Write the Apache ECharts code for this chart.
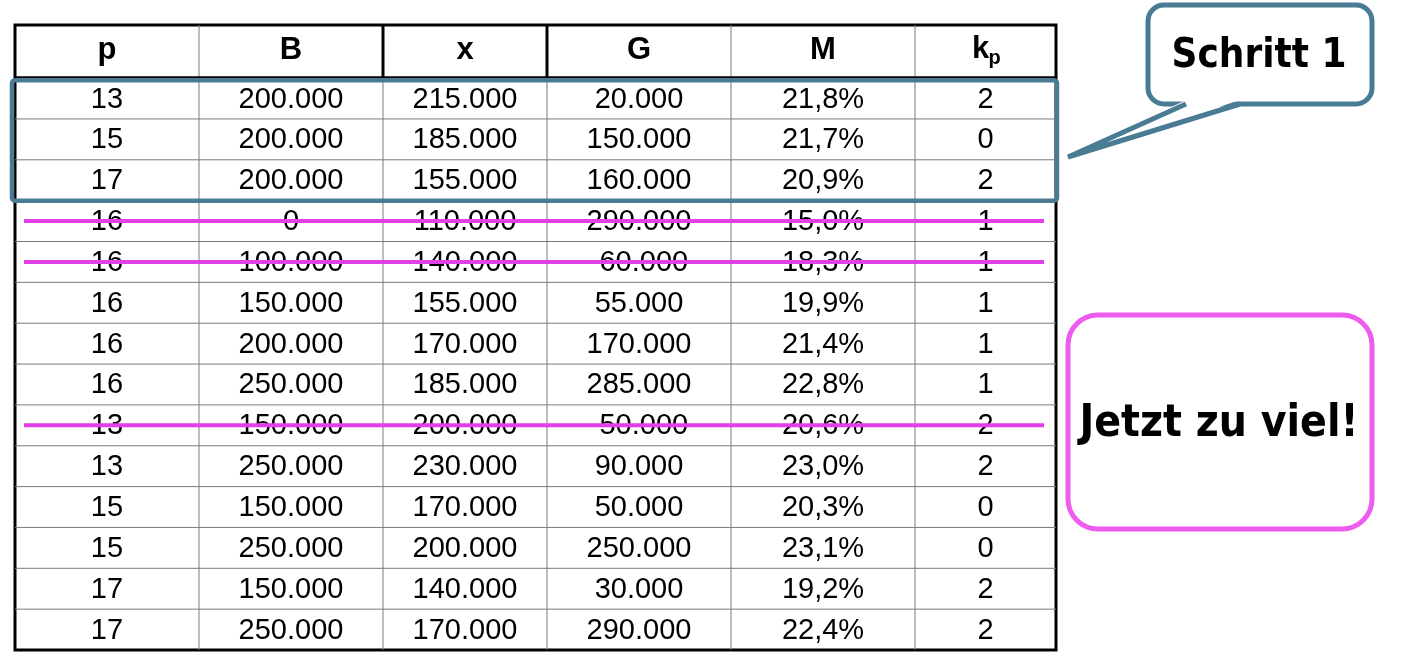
<!DOCTYPE html>
<html>
<head>
<meta charset="utf-8">
<script src="https://cdn.jsdelivr.net/npm/echarts@6/dist/echarts.min.js"></script>
<style>
  html, body { margin: 0; padding: 0; background: #fff; }
  #main { width: 1410px; height: 671px; }
</style>
</head>
<body>
<div id="main"></div>
<script>
// table values, one array per column
var headers = ['p', 'B', 'x', 'G', 'M', 'k'];
var pVals = [13, 15, 17, 16, 16, 16, 16, 16, 13, 13, 15, 15, 17, 17];
var bVals = [200000, 200000, 200000, 0, 100000, 150000, 200000, 250000, 150000, 250000, 150000, 250000, 150000, 250000];
var xVals = [215000, 185000, 155000, 110000, 140000, 155000, 170000, 185000, 200000, 230000, 170000, 200000, 140000, 170000];
var gVals = [20000, 150000, 160000, 290000, -60000, 55000, 170000, 285000, -50000, 90000, 50000, 250000, 30000, 290000];
var mVals = [21.8, 21.7, 20.9, 15.0, 18.3, 19.9, 21.4, 22.8, 20.6, 23.0, 20.3, 23.1, 19.2, 22.4];
var kVals = [2, 0, 2, 1, 1, 1, 1, 1, 2, 2, 0, 0, 2, 2];
var highlightRows = [0, 2];     // "Schritt 1"
var struckRows = [3, 4, 8];     // crossed out

// layout
var colEdges = [0, 184, 368, 532, 716, 900, 1041];
var headerH = 1.3;
var nRows = pVals.length;
var font = "'Liberation Sans', Arial, sans-serif";
var calloutFont = "'DejaVu Sans Condensed', 'DejaVu Sans', sans-serif";
var blue = '#497C94';

function thousands(v) {
    var s = String(Math.abs(v)).replace(/\B(?=(\d{3})+(?!\d))/g, '.');
    return (v < 0 ? '-' : '') + s;
}
function pct(v) {
    return v.toFixed(1).replace('.', ',') + '%';
}

var cells = [];
for (var i = 0; i < nRows; i++) {
    var row = [String(pVals[i]), thousands(bVals[i]), thousands(xVals[i]),
        thousands(gVals[i]), pct(mVals[i]), String(kVals[i])];
    for (var c = 0; c < row.length; c++) cells.push([c, i, row[c]]);
}
var headerCells = headers.map(function(h, c) { return [c, -1, h]; });

function cellBox(api, col, row) {
    var y0 = row < 0 ? 0 : headerH + row;
    var y1 = row < 0 ? headerH : headerH + row + 1;
    var a = api.coord([colEdges[col], y0]);
    var b = api.coord([colEdges[col + 1], y1]);
    return { x0: a[0], y0: a[1], x1: b[0], y1: b[1] };
}

function renderCell(params, api) {
    var col = api.value(0), row = api.value(1);
    var b = cellBox(api, col, row);
    var kids = [];
    if (col < 5) {
        kids.push({ type: 'line', shape: { x1: b.x1, y1: b.y0, x2: b.x1, y2: b.y1 },
            style: { stroke: '#7a7a7a', lineWidth: 1 } });
    }
    if (row < nRows - 1) {
        kids.push({ type: 'line', shape: { x1: b.x0, y1: b.y1, x2: b.x1, y2: b.y1 },
            style: { stroke: '#7a7a7a', lineWidth: 1 } });
    }
    kids.push({ type: 'text', style: {
        text: cells[params.dataIndex][2], x: (b.x0 + b.x1) / 2, y: (b.y0 + b.y1) / 2 + 1,
        align: 'center', verticalAlign: 'middle', font: '29px ' + font, fill: '#000' } });
    return { type: 'group', children: kids };
}

function renderHeader(params, api) {
    var col = api.value(0);
    var b = cellBox(api, col, -1);
    var kids = [];
    if (col < 5) {
        var thick = col === 1 || col === 2;
        kids.push({ type: 'line', shape: { x1: b.x1, y1: b.y0, x2: b.x1, y2: b.y1 },
            style: { stroke: thick ? '#000' : '#7a7a7a', lineWidth: thick ? 3 : 1 } });
    }
    kids.push({ type: 'line', shape: { x1: b.x0, y1: b.y1, x2: b.x1, y2: b.y1 },
        style: { stroke: '#000', lineWidth: 3.5 } });
    var cx = (b.x0 + b.x1) / 2, cy = (b.y0 + b.y1) / 2;
    var txt = headerCells[params.dataIndex][2];
    if (col === 5) {
        kids.push({ type: 'text', style: { text: 'k', x: cx - 5, y: cy - 2, align: 'center',
            verticalAlign: 'middle', font: 'bold 31px ' + font, fill: '#000' } });
        kids.push({ type: 'text', style: { text: 'p', x: cx + 9, y: cy + 7, align: 'center',
            verticalAlign: 'middle', font: 'bold 20px ' + font, fill: '#000' } });
    } else {
        kids.push({ type: 'text', style: { text: txt, x: cx, y: cy - 1, align: 'center',
            verticalAlign: 'middle', font: 'bold 31px ' + font, fill: '#000' } });
    }
    return { type: 'group', children: kids };
}

function renderHighlight(params, api) {
    var a = api.coord([-3, headerH + api.value(0) + 0.05]);
    var b = api.coord([colEdges[6] + 1, headerH + api.value(1) + 1]);
    return { type: 'rect', shape: { x: a[0], y: a[1], width: b[0] - a[0], height: b[1] - a[1], r: 3 },
        style: { fill: 'none', stroke: blue, lineWidth: 4.5 } };
}

function renderStrike(params, api) {
    var y = headerH + api.value(0) + 0.5;
    var a = api.coord([9, y]);
    var b = api.coord([colEdges[6] - 12, y]);
    return { type: 'line', shape: { x1: a[0], y1: a[1], x2: b[0], y2: b[1] },
        style: { stroke: '#E33FE6', lineWidth: 4 } };
}

var myChart = echarts.init(document.getElementById('main'));
var option = {
    animation: false,
    backgroundColor: '#fff',
    grid: { left: 15, top: 25, right: 354, bottom: 21, show: true,
        borderColor: '#000', borderWidth: 3, backgroundColor: '#fff' },
    xAxis: { type: 'value', min: 0, max: colEdges[6], show: false },
    yAxis: { type: 'value', min: 0, max: headerH + nRows, inverse: true, show: false },
    series: [{
        type: 'custom', z: 2, renderItem: renderCell,
        data: cells.map(function(d) { return [d[0], d[1]]; })
    }, {
        type: 'custom', z: 3, renderItem: renderHeader,
        data: headerCells.map(function(d) { return [d[0], d[1]]; })
    }, {
        type: 'custom', z: 5, renderItem: renderHighlight,
        data: [highlightRows]
    }, {
        type: 'custom', z: 6, renderItem: renderStrike,
        data: struckRows.map(function(r) { return [r]; })
    }],
    graphic: [{
        type: 'rect', z: 10,
        shape: { x: 1148, y: 5, width: 224, height: 99, r: 16 },
        style: { fill: '#fff', stroke: blue, lineWidth: 5 }
    }, {
        type: 'polygon', z: 11,
        shape: { points: [[1186, 100], [1240, 100], [1068, 157]] },
        style: { fill: '#fff' }
    }, {
        type: 'polyline', z: 12,
        shape: { points: [[1186, 104], [1068, 157], [1240, 104]] },
        style: { fill: 'none', stroke: blue, lineWidth: 5, lineJoin: 'miter' }
    }, {
        type: 'text', z: 13, x: 1259, y: 57,
        style: { text: 'Schritt 1', align: 'center', verticalAlign: 'middle',
            font: 'bold 40px ' + calloutFont, fill: '#000' }
    }, {
        type: 'rect', z: 10,
        shape: { x: 1068, y: 315, width: 304, height: 214, r: 30 },
        style: { fill: '#fff', stroke: '#EE5CEE', lineWidth: 5 }
    }, {
        type: 'text', z: 13, x: 1219, y: 425,
        style: { text: 'Jetzt zu viel!', align: 'center', verticalAlign: 'middle',
            font: 'bold 44px ' + calloutFont, fill: '#000' }
    }]
};
myChart.setOption(option);
</script>
</body>
</html>
